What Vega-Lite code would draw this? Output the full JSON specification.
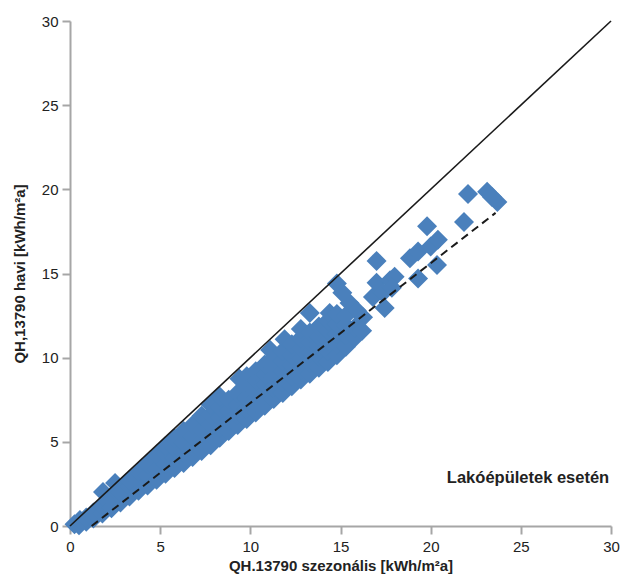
{
  "$schema": "https://vega.github.io/schema/vega-lite/v6.json",
  "width": 541,
  "height": 505,
  "autosize": "none",
  "padding": {"left": 70, "top": 21, "right": 11, "bottom": 55},
  "config": {
    "view": {"stroke": null},
    "font": "Liberation Sans",
    "axis": {
      "grid": false,
      "labelFlush": false,
      "labelOverlap": false,
      "domainColor": "#a6a6a6",
      "domainWidth": 2,
      "tickColor": "#a6a6a6",
      "tickWidth": 2,
      "tickSize": 8,
      "labelFont": "Liberation Sans",
      "labelFontSize": 15,
      "labelColor": "#222222",
      "titleFont": "Liberation Sans",
      "titleFontSize": 15,
      "titleFontWeight": "bold",
      "titleColor": "#222222"
    }
  },
  "datasets": {
    "pts": [
      {"x": 0.25, "y": 0.1}, {"x": 0.5, "y": 0.05}, {"x": 0.55, "y": 0.35},
      {"x": 0.9, "y": 0.25}, {"x": 0.9, "y": 0.5},
      {"x": 1.3, "y": 0.45}, {"x": 1.3, "y": 0.8},
      {"x": 1.8, "y": 0.75}, {"x": 1.8, "y": 1.2}, {"x": 1.83, "y": 2.02}, {"x": 2.05, "y": 1.5},
      {"x": 2.3, "y": 1.05}, {"x": 2.3, "y": 1.6}, {"x": 2.5, "y": 2.55}, {"x": 2.6, "y": 2.0},
      {"x": 2.8, "y": 1.4}, {"x": 2.8, "y": 1.95},
      {"x": 3.3, "y": 1.75}, {"x": 3.3, "y": 2.3}, {"x": 3.3, "y": 2.75},
      {"x": 3.8, "y": 2.1}, {"x": 3.8, "y": 2.65}, {"x": 3.8, "y": 3.2},
      {"x": 4.3, "y": 2.4}, {"x": 4.3, "y": 3.0}, {"x": 4.3, "y": 3.7},
      {"x": 4.8, "y": 2.75}, {"x": 4.8, "y": 3.35}, {"x": 4.8, "y": 4.2},
      {"x": 5.3, "y": 3.1}, {"x": 5.3, "y": 3.7}, {"x": 5.3, "y": 4.3}, {"x": 5.3, "y": 4.75},
      {"x": 5.8, "y": 3.45}, {"x": 5.8, "y": 4.05}, {"x": 5.8, "y": 4.65}, {"x": 5.8, "y": 5.2},
      {"x": 6.3, "y": 3.75}, {"x": 6.3, "y": 4.35}, {"x": 6.3, "y": 4.95}, {"x": 6.3, "y": 5.65},
      {"x": 6.8, "y": 4.1}, {"x": 6.8, "y": 4.7}, {"x": 6.8, "y": 5.3}, {"x": 6.8, "y": 6.0},
      {"x": 7.3, "y": 4.45}, {"x": 7.3, "y": 5.05}, {"x": 7.3, "y": 5.7}, {"x": 7.3, "y": 6.55},
      {"x": 7.8, "y": 4.8}, {"x": 7.8, "y": 5.4}, {"x": 7.8, "y": 6.0}, {"x": 7.8, "y": 6.6}, {"x": 7.8, "y": 7.2},
      {"x": 8.3, "y": 5.25}, {"x": 8.3, "y": 5.85}, {"x": 8.3, "y": 6.45}, {"x": 8.3, "y": 7.05}, {"x": 8.3, "y": 7.7},
      {"x": 8.8, "y": 5.65}, {"x": 8.8, "y": 6.25}, {"x": 8.8, "y": 6.85}, {"x": 8.8, "y": 7.5},
      {"x": 9.3, "y": 6.0}, {"x": 9.3, "y": 6.6}, {"x": 9.3, "y": 7.2}, {"x": 9.3, "y": 7.9}, {"x": 9.4, "y": 8.75},
      {"x": 9.8, "y": 6.35}, {"x": 9.8, "y": 6.95}, {"x": 9.8, "y": 7.6}, {"x": 9.8, "y": 8.25}, {"x": 9.8, "y": 8.9},
      {"x": 10.3, "y": 6.75}, {"x": 10.3, "y": 7.35}, {"x": 10.3, "y": 8.0}, {"x": 10.3, "y": 8.65}, {"x": 10.3, "y": 9.2},
      {"x": 10.8, "y": 7.15}, {"x": 10.8, "y": 7.8}, {"x": 10.8, "y": 8.4}, {"x": 10.8, "y": 9.0}, {"x": 10.8, "y": 9.6}, {"x": 11.1, "y": 10.45},
      {"x": 11.3, "y": 7.55}, {"x": 11.3, "y": 8.2}, {"x": 11.3, "y": 8.8}, {"x": 11.3, "y": 9.4}, {"x": 11.3, "y": 10.0},
      {"x": 11.8, "y": 7.9}, {"x": 11.8, "y": 8.55}, {"x": 11.8, "y": 9.2}, {"x": 11.8, "y": 9.8}, {"x": 11.8, "y": 10.4}, {"x": 11.9, "y": 11.1},
      {"x": 12.3, "y": 8.3}, {"x": 12.3, "y": 8.9}, {"x": 12.3, "y": 9.55}, {"x": 12.3, "y": 10.15}, {"x": 12.3, "y": 10.8},
      {"x": 12.8, "y": 8.7}, {"x": 12.8, "y": 9.3}, {"x": 12.8, "y": 9.95}, {"x": 12.8, "y": 10.55}, {"x": 12.8, "y": 11.15}, {"x": 12.8, "y": 11.7},
      {"x": 13.3, "y": 9.05}, {"x": 13.3, "y": 9.7}, {"x": 13.3, "y": 10.3}, {"x": 13.3, "y": 10.9}, {"x": 13.3, "y": 11.5}, {"x": 13.3, "y": 12.65},
      {"x": 13.8, "y": 9.4}, {"x": 13.8, "y": 10.05}, {"x": 13.8, "y": 10.65}, {"x": 13.8, "y": 11.25}, {"x": 13.8, "y": 11.85},
      {"x": 14.3, "y": 9.75}, {"x": 14.3, "y": 10.4}, {"x": 14.3, "y": 11.0}, {"x": 14.3, "y": 11.6}, {"x": 14.3, "y": 12.2}, {"x": 14.4, "y": 12.65},
      {"x": 14.8, "y": 10.15}, {"x": 14.8, "y": 10.8}, {"x": 14.8, "y": 11.4}, {"x": 14.8, "y": 12.0}, {"x": 14.8, "y": 12.6}, {"x": 14.8, "y": 14.4},
      {"x": 15.1, "y": 13.85},
      {"x": 15.3, "y": 10.65}, {"x": 15.3, "y": 11.3}, {"x": 15.3, "y": 11.9}, {"x": 15.3, "y": 12.5}, {"x": 15.5, "y": 13.25},
      {"x": 15.8, "y": 11.2}, {"x": 15.8, "y": 11.8}, {"x": 15.9, "y": 12.8}, {"x": 16.25, "y": 12.4}, {"x": 16.2, "y": 11.6},
      {"x": 16.8, "y": 13.6}, {"x": 17.0, "y": 14.45}, {"x": 17.75, "y": 14.6}, {"x": 18.0, "y": 14.8},
      {"x": 17.35, "y": 13.85}, {"x": 17.85, "y": 14.15}, {"x": 17.45, "y": 12.95}, {"x": 17.0, "y": 15.75},
      {"x": 18.85, "y": 15.9}, {"x": 19.3, "y": 16.3}, {"x": 20.0, "y": 16.6}, {"x": 20.4, "y": 17.0},
      {"x": 19.3, "y": 14.7}, {"x": 20.35, "y": 15.5}, {"x": 19.8, "y": 17.8}, {"x": 21.85, "y": 18.06},
      {"x": 22.07, "y": 19.73}, {"x": 23.13, "y": 19.85}, {"x": 23.4, "y": 19.55}, {"x": 23.7, "y": 19.25}
    ],
    "ref": [{"x": 0, "y": 0}, {"x": 30, "y": 30}],
    "fit": [{"x": 1.2, "y": 0}, {"x": 23.6, "y": 18.6}],
    "note": [{"x": 29.9, "y": 2.85, "label": "Lakóépületek esetén"}]
  },
  "layer": [
    {
      "data": {"name": "pts"},
      "mark": {"type": "point", "shape": "diamond", "filled": true, "size": 400, "color": "#4a80bc", "opacity": 1, "strokeWidth": 0},
      "encoding": {
        "x": {"field": "x", "type": "quantitative", "scale": {"domain": [0, 30], "nice": false},
              "axis": {"values": [0, 5, 10, 15, 20, 25, 30], "title": "QH.13790 szezonális [kWh/m²a]", "labelPadding": 5, "titlePadding": 4}},
        "y": {"field": "y", "type": "quantitative", "scale": {"domain": [0, 30], "nice": false},
              "axis": {"values": [0, 5, 10, 15, 20, 25, 30], "title": "QH,13790 havi [kWh/m²a]", "labelPadding": 4, "titlePadding": 14}}
      }
    },
    {
      "data": {"name": "ref"},
      "mark": {"type": "line", "color": "#1a1a1a", "strokeWidth": 1.6},
      "encoding": {"x": {"field": "x", "type": "quantitative"}, "y": {"field": "y", "type": "quantitative"}}
    },
    {
      "data": {"name": "fit"},
      "mark": {"type": "line", "color": "#1a1a1a", "strokeWidth": 2, "strokeDash": [8, 5]},
      "encoding": {"x": {"field": "x", "type": "quantitative"}, "y": {"field": "y", "type": "quantitative"}}
    },
    {
      "data": {"name": "note"},
      "mark": {"type": "text", "align": "right", "baseline": "middle", "fontWeight": "bold", "fontSize": 16.5, "color": "#222222", "font": "Liberation Sans"},
      "encoding": {"x": {"field": "x", "type": "quantitative"}, "y": {"field": "y", "type": "quantitative"}, "text": {"field": "label"}}
    }
  ]
}
